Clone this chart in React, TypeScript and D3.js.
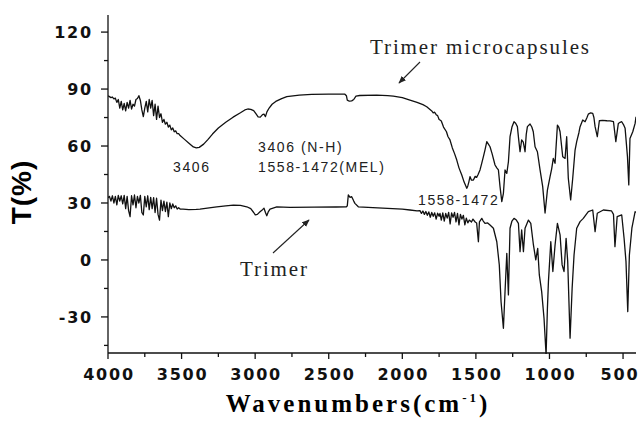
import React from "react";
import * as d3 from "d3";

// Trimer microcapsules spectrum: [wavenumber, T%]
const microWave: number[] = [4000,3990,3980,3970,3960,3950,3940,3930,3920,3910,3900,3890,3880,3870,3860,3850,3840,3830,3820,3810,3800,3790,3780,3770,3760,3750,3740,3730,3720,3710,3700,3690,3680,3670,3660,3650,3640,3630,3620,3610,3600,3590,3580,3570,3560,3550,3540,3530,3520,3510,3480,3450,3420,3400,3380,3350,3320,3290,3250,3200,3150,3100,3070,3050,3030,3010,2995,2980,2965,2950,2940,2930,2920,2905,2885,2860,2820,2785,2700,2616,2500,2390,2380,2374,2360,2344,2330,2315,2290,2174,2100,2061,2000,1948,1900,1860,1834,1800,1790,1780,1770,1760,1750,1744,1735,1720,1700,1690,1676,1660,1645,1630,1615,1596,1580,1562,1555,1548,1540,1530,1517,1505,1495,1485,1472,1460,1449,1438,1426,1415,1404,1390,1370,1358,1347,1336,1324,1313,1302,1290,1279,1268,1255,1241,1230,1218,1210,1200,1189,1178,1166,1158,1150,1132,1120,1110,1098,1082,1064,1046,1030,1014,996,985,974,962,946,937,928,910,894,883,872,856,842,826,815,800,792,774,758,745,736,720,706,698,690,675,661,640,610,588,565,549,532,520,509,495,486,470,461,453,434,418,412];
const microT: number[] = [86.5,86,85.5,85.8,84.8,85.2,83,84.5,80,83.5,79,82.5,78.5,83,80,84,79.5,82,81,84.5,85,86.5,84,79,75.5,80,83.5,78,84.5,80,84,76,82,74,81,75,77,72.5,74,71.5,72.5,70,71,68.5,69.5,67.5,68,66.5,66.5,65.5,63.5,61.5,59.5,59,59.3,61,63.5,66.3,69.5,72.5,75.2,77.5,79,79.5,79.3,78.6,77,75.4,75.2,76.5,76.8,75.5,78,80,82,83.5,85,86,86.8,87.2,87.3,87.3,86.5,84.2,83.6,83.8,84.5,86.3,86.6,86.8,86.5,86.3,85.5,84.2,83,81.8,80.7,78.5,77.5,77.8,76.5,76,74,73.7,73.2,70,67.5,65,63.2,59,56,52.6,48.5,44.7,41,37.7,39,41,43.9,42,42.1,44,43.5,45,47.4,51,54.4,58,62.3,61,59.6,56,50,48.5,47.4,38.6,30.7,35.1,47.4,45.6,51.7,64.9,70,72.8,72,70.2,64,57,63.2,62,57,66,70.2,71.6,70,67.5,59.6,57,47.4,38.6,24.7,36.8,43.9,48,53.5,50.9,71,70,67.5,54.4,53.5,64.9,43,31.6,43,57.9,62.3,67,70.2,73.7,72.8,75,76.8,77.5,77.2,75,70.2,64.9,73.3,73.5,73.3,73.2,72.8,62.3,71.9,72.5,72.8,71,69.3,54.4,39.5,64,67.5,71.9,75.4];

// Trimer spectrum
const trimerWave: number[] = [4000,3990,3980,3970,3960,3950,3940,3930,3920,3910,3900,3890,3880,3870,3860,3850,3840,3830,3820,3810,3800,3790,3780,3770,3760,3750,3740,3730,3720,3710,3700,3690,3680,3670,3660,3650,3640,3630,3620,3610,3600,3590,3580,3570,3560,3550,3540,3530,3520,3510,3490,3450,3400,3375,3300,3261,3200,3148,3100,3057,3030,3010,2999,2985,2967,2950,2940,2930,2921,2910,2899,2853,2763,2600,2450,2380,2374,2367,2355,2344,2330,2322,2299,2200,2100,2000,1948,1900,1880,1870,1860,1850,1840,1830,1820,1810,1800,1790,1780,1770,1760,1750,1744,1735,1725,1715,1705,1695,1685,1675,1665,1655,1645,1635,1625,1615,1605,1595,1585,1575,1565,1555,1545,1530,1520,1505,1495,1483,1476,1460,1450,1438,1420,1404,1381,1358,1341,1329,1313,1302,1290,1279,1268,1255,1241,1225,1211,1200,1189,1177,1166,1143,1127,1109,1093,1080,1069,1053,1037,1023,1014,1007,991,977,962,946,928,914,901,887,876,860,846,833,815,792,770,750,736,706,690,675,634,578,565,555,540,509,493,480,468,457,440,418,412];
const trimerT: number[] = [32.8,33.5,31,33.8,30,33.5,29,34,31,33.8,29.5,34,27,33.5,26,22.8,33.8,29,34.2,27.5,33.5,30,34,25,23.7,33.5,28,33.8,26.5,33,27,32.8,25,32.5,24,21,31.5,26,31,25.5,30.5,22.8,30,27,29.5,27.5,28.5,26.8,27.5,26.8,26.8,26.5,26.6,26.8,27.6,28,28.5,28.9,28.7,28,27,25,23.7,24,25.4,26.5,27.2,25,23.3,25.5,26.8,28,27.7,27.8,27.9,28,28.5,34.2,33,33.3,31,29.8,28,27.6,27.2,26.8,26.3,25.8,26,24.5,25.8,24,25.5,23.5,25.3,22.5,25,23,24.8,21.5,24.6,23,24.5,21,24.8,20.5,24.5,22,25,19,24.8,22.5,25,20,24.5,18.5,24,21.5,23.5,18.5,22,19.5,21,20,21.5,20,19.5,9.6,20,21.9,20.5,19.3,19.5,18.4,16.7,9.6,-2.6,-22,-36,-16.7,3.5,-18.4,16.7,20.5,21.9,21,19.3,4.4,15.8,4.4,16.7,21,19.3,7.9,0,6.1,-7.9,-16.7,-30.7,-50,-25.4,-11.4,9.6,-6.1,7.9,19.3,13.2,-2.6,-6.1,11.4,-0.9,-41.2,-14.9,2.6,16.7,20.2,21.9,24,25.4,26.3,14.9,24.6,26.3,25.8,24,7,22.8,23.7,11.4,-0.9,-27.2,2.6,16.7,25.4,25];

const yTicks: number[] = [-30, 0, 30, 60, 90, 120];
const yMinorTicks: number[] = [-45, -15, 15, 45, 75, 105];
const xTicks: number[] = [4000, 3500, 3000, 2500, 2000, 1500, 1000, 500];
const xMinorTicks: number[] = [3750, 3250, 2750, 2250, 1750, 1250, 750];

const W = 640, H = 421;
const left = 108, right = 636, top = 15, bottom = 353;

export default function App() {
  const x = d3.scaleLinear().domain([4000, 412]).range([left, right]);
  const y = d3.scaleLinear().domain([-49, 129]).range([bottom, top]);
  const line = d3.line<[number, number]>().x(d => x(d[0])).y(d => y(d[1]));
  const micro: [number, number][] = microWave.map((w, i) => [w, microT[i]]);
  const trimer: [number, number][] = trimerWave.map((w, i) => [w, trimerT[i]]);
  const tickFont = { fontFamily: "'DejaVu Sans', sans-serif", fontWeight: 700, fontSize: 16, letterSpacing: 1.8, fill: "#111" } as const;
  const annFont = { fontFamily: "'Liberation Sans', Arial, sans-serif", fontSize: 14, letterSpacing: 1.6, fill: "#222" } as const;
  const serif = { fontFamily: "'Liberation Serif', 'Times New Roman', serif", fontSize: 21, letterSpacing: 1.9, fill: "#222" } as const;
  return (
    <svg width={W} height={H} style={{ position: "absolute", left: 0, top: 0, background: "#fff" }}>
      <defs>
        <clipPath id="plot">
          <rect x={left} y={top} width={right - left} height={bottom - top + 1} />
        </clipPath>
        <marker id="arrow" viewBox="0 0 10 10" refX="9" refY="5" markerWidth="7" markerHeight="7" orient="auto-start-reverse">
          <path d="M0,1 L10,5 L0,9 z" fill="#222" />
        </marker>
      </defs>
      <rect x={0} y={0} width={W} height={H} fill="#fff" />
      <g clipPath="url(#plot)" fill="none" stroke="#111" strokeWidth={1.3} strokeLinejoin="round">
        <path d={line(micro) || ""} />
        <path d={line(trimer) || ""} />
      </g>
      {/* axes */}
      <g stroke="#111" strokeWidth={1.3}>
        <line x1={left} x2={left} y1={top} y2={bottom} />
        <line x1={left} x2={right} y1={bottom} y2={bottom} />
        {yTicks.map(t => <line key={"yt" + t} x1={left - 7} x2={left} y1={y(t)} y2={y(t)} />)}
        {yMinorTicks.map(t => <line key={"ym" + t} x1={left - 4} x2={left} y1={y(t)} y2={y(t)} />)}
        {xTicks.map(t => <line key={"xt" + t} x1={x(t)} x2={x(t)} y1={bottom} y2={bottom + 6} />)}
        {xMinorTicks.map(t => <line key={"xm" + t} x1={x(t)} x2={x(t)} y1={bottom} y2={bottom + 4} />)}
      </g>
      {yTicks.map(t => (
        <text key={"yl" + t} x={left - 15} y={y(t)} dy="0.36em" textAnchor="end" {...tickFont}>{t}</text>
      ))}
      {xTicks.map(t => (
        <text key={"xl" + t} x={Math.min(x(t) + 1, 620)} y={bottom + 27} textAnchor="middle" {...tickFont}>{t}</text>
      ))}
      <text transform={`translate(31,192) rotate(-90)`} textAnchor="middle" fontFamily="'Liberation Sans', Arial, sans-serif" fontWeight={700} fontSize={28} letterSpacing={1}>T(%)</text>
      <text x={358} y={412} textAnchor="middle" fontFamily="'Liberation Serif', 'Times New Roman', serif" fontWeight={700} fontSize={25} letterSpacing={3}>
        Wavenumbers(cm<tspan dy={-10} fontSize={13}>-1</tspan><tspan dy={10}>)</tspan>
      </text>
      {/* annotations */}
      <text x={370} y={54} {...serif}>Trimer microcapsules</text>
      <line x1={420} y1={62} x2={399} y2={83} stroke="#222" strokeWidth={1.1} markerEnd="url(#arrow)" />
      <text x={240} y={276} {...serif}>Trimer</text>
      <line x1={273} y1={253} x2={309} y2={220} stroke="#222" strokeWidth={1.1} markerEnd="url(#arrow)" />
      <text x={173} y={172} {...annFont}>3406</text>
      <text x={258} y={152} {...annFont}>3406 (N-H)</text>
      <text x={258} y={172} {...annFont}>1558-1472(MEL)</text>
      <text x={418} y={205} {...annFont}>1558-1472</text>
    </svg>
  );
}
